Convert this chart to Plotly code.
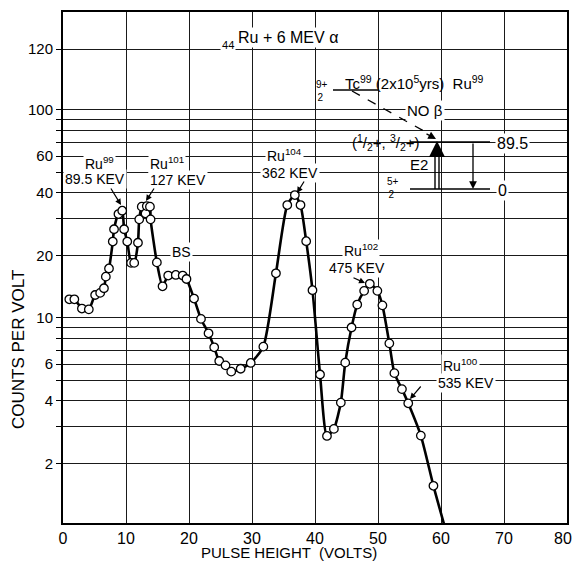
import plotly.graph_objects as go

# ---- data ----
volts = [1.0, 1.8, 3.0, 4.1, 5.1, 5.9, 6.5, 6.8, 7.3, 7.9, 8.1, 8.8, 9.4, 9.7, 10.2,
         10.8, 11.3, 11.9, 12.1, 12.5, 13.1, 13.3, 13.8, 13.9, 14.9, 15.8, 16.7, 17.9,
         19.0, 19.6, 20.8, 21.9, 23.1, 24.0, 24.8, 25.8, 26.7, 28.2, 29.8, 31.8, 33.8,
         35.6, 36.8, 37.7, 38.6, 39.6, 40.8, 41.9, 43.0, 44.1, 44.8, 45.8, 46.7, 47.8,
         48.7, 49.9, 50.7, 51.8, 52.6, 53.8, 54.8, 56.8, 58.8, 60.6]
counts = [12.3, 12.3, 11.1, 11.0, 12.9, 13.2, 13.9, 15.8, 17.3, 23.3, 26.7, 31.6, 32.8,
          26.7, 23.3, 18.4, 18.4, 23.0, 29.8, 34.3, 31.8, 34.5, 34.3, 29.8, 18.5, 14.2,
          16.0, 16.1, 16.0, 15.4, 12.4, 9.9, 8.44, 7.23, 6.21, 5.92, 5.52, 5.7, 6.08,
          7.28, 16.4, 34.9, 39.0, 34.9, 23.4, 13.6, 5.35, 2.71, 2.93, 3.92, 6.1, 9.0,
          11.6, 13.5, 14.6, 13.5, 11.5, 7.55, 5.43, 4.55, 3.89, 2.72, 1.56, 0.99]

x_ticks = [0, 10, 20, 30, 40, 50, 60, 70, 80]
x_text = ['0', '10', '20', '30', '40', '50', '60', '70', '80\u2002']
y_grid = [2, 3, 4, 5, 6, 7, 8, 9, 10, 20, 30, 40, 50, 60, 70, 80, 90, 100, 196]
y_text = ['2', '', '4', '', '6', '', '', '', '10', '20', '', '40', '', '60', '', '', '', '100', '120']

# ---- figure geometry ----
W, H = 574, 561
L, R, T, B = 63, 7, 12, 38
PW, PH = W - L - R, H - T - B
FONT = 'Liberation Sans'


def P(xp, yp):
    return (xp - L) / PW, (H - B - yp) / PH


fig = go.Figure()
fig.add_trace(go.Scatter(
    x=volts, y=counts, mode='lines+markers', cliponaxis=False,
    line=dict(color='black', width=2.6, shape='spline', smoothing=0.6),
    marker=dict(symbol='circle', size=8.5, color='white', line=dict(color='black', width=1.3)),
))

fig.update_layout(
    width=W, height=H, margin=dict(l=L, r=R, t=T, b=B, autoexpand=False),
    paper_bgcolor='white', plot_bgcolor='white', showlegend=False,
    font=dict(family=FONT, color='black', size=15),
)
fig.update_xaxes(range=[0, 80], tickvals=x_ticks, ticktext=x_text, showgrid=True,
                 gridcolor='#1a1a1a', gridwidth=1.3,
                 zeroline=False, showline=True, linecolor='black', linewidth=2, mirror=True,
                 ticks='', automargin=False, ticklabeloverflow='allow',
                 tickfont=dict(size=16, family=FONT))
fig.update_yaxes(type='log', range=[0.0144, 2.471], tickvals=y_grid, ticktext=y_text,
                 showgrid=True, gridcolor='#1a1a1a', gridwidth=1.3, zeroline=False,
                 showline=True, linecolor='black', linewidth=2, mirror=True,
                 ticks='outside', ticklen=5, tickwidth=1.3, tickcolor='black',
                 automargin=False, tickfont=dict(size=15, family=FONT))

shapes = []


def white_rect(x0, y0, x1, y1):
    a, b = P(x0, y1)
    c, d = P(x1, y0)
    shapes.append(dict(type='rect', xref='paper', yref='paper', x0=a, y0=b, x1=c, y1=d,
                       fillcolor='white', line=dict(width=0), layer='between'))


def seg(x0, y0, x1, y1, w=1.5, dash='solid'):
    a, b = P(x0, y0)
    c, d = P(x1, y1)
    shapes.append(dict(type='line', xref='paper', yref='paper', x0=a, y0=b, x1=c, y1=d,
                       line=dict(color='black', width=w, dash=dash), layer='above'))


# blank areas behind the level scheme
white_rect(333, 64, 455, 136)
white_rect(358, 136, 495, 196)
white_rect(485, 152, 567, 160)

# level scheme lines
seg(333, 90, 378, 90)            # Tc99 level
seg(410, 142, 490, 142)          # 89.5 level
seg(410, 189, 490, 189)          # ground level
seg(352, 91, 431, 135, w=1.3, dash='dash')  # dashed decay
seg(435, 189, 435, 150, w=1.4)   # double shaft of E2 arrow
seg(439, 189, 439, 150, w=1.4)
fig.update_layout(shapes=shapes)


def text(s, xp, yp, size=14, bg=True, angle=0, xanchor='center'):
    x, y = P(xp, yp)
    fig.add_annotation(text=s, x=x, y=y, xref='paper', yref='paper', showarrow=False,
                       xanchor=xanchor, yanchor='middle', textangle=angle,
                       font=dict(size=size, family=FONT, color='black'),
                       bgcolor='white' if bg else None, borderpad=1)


def arrow(tx, ty, hx, hy, head=2, size=1.0, width=1.2):
    x, y = P(hx, hy)
    fig.add_annotation(text='', x=x, y=y, xref='paper', yref='paper', showarrow=True,
                       ax=tx - hx, ay=ty - hy, arrowhead=head, arrowsize=size,
                       arrowwidth=width, arrowcolor='black', standoff=0)


# axis titles
text('COUNTS PER VOLT', 18, 350, size=17, bg=False, angle=-90)
text('PULSE HEIGHT  (VOLTS)', 289, 552, size=15, bg=False)

# peak labels
text('Ru<sup>99</sup>', 99, 163)
text('89.5 KEV', 95, 179)
text('Ru<sup>101</sup>', 167, 163)
text('127 KEV', 178, 180)
text('Ru<sup>104</sup>', 284, 155)
text('362 KEV', 290, 173)
text('BS', 181, 252)
text('Ru<sup>102</sup>', 361, 250)
text('475 KEV', 357, 268)
text('Ru<sup>100</sup>', 460, 365)
text('535 KEV', 466, 383)

arrow(110, 187, 121, 205)
arrow(155, 187, 146, 201)
arrow(305, 180, 297, 193)
arrow(352, 277, 365, 283)
arrow(422, 385, 410, 399)

# reaction title
text('Ru + 6 MEV α', 288, 37, size=16)
text('<sub>44</sub>', 228, 45, size=16)

# level scheme texts
text('9+<br>2 ', 322, 91, size=10, bg=False)
text('Tc<sup>99</sup> (2x10<sup>5</sup>yrs)  Ru<sup>99</sup>', 414, 82, size=15, bg=False)
text('NO β', 425, 110, size=15)
text('(<sup>1</sup>/<sub>2</sub>+, <sup>3</sup>/<sub>2</sub>+)', 386, 142, size=15, bg=False)
text('89.5', 512, 143, size=16)
text('E2', 419, 164, size=15, bg=False)
text('0', 502, 190, size=16)
text('5+<br>2 ', 393, 188, size=10, bg=False)

arrow(425, 133, 436, 139, head=2, size=1.2, width=1.3)     # dashed arrow head
arrow(437, 152, 437, 141, head=2, size=1.6, width=2)       # E2 head
arrow(473, 142, 473, 189, head=2, size=1.2, width=1.3)     # down arrow

fig.write_html('out.html', config={'displayModeBar': False},
               post_script="document.body.style.margin='0px';")
